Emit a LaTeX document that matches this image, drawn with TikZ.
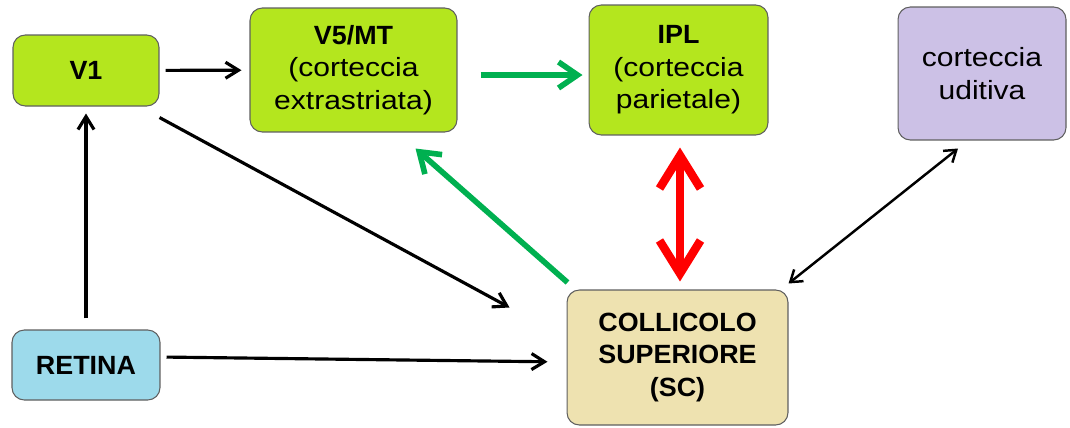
\documentclass[tikz,border=0pt]{standalone}
\usepackage{fontspec}
\setmainfont{Liberation Sans}[FakeStretch=1.14, BoldFeatures={FakeStretch=1.02}]
\usepackage{tikz}
\usetikzlibrary{arrows.meta}
\usepackage{xcolor}
\definecolor{limebox}{RGB}{180,230,30}
\definecolor{lilacbox}{RGB}{204,193,230}
\definecolor{skybox}{RGB}{157,218,235}
\definecolor{sandbox}{RGB}{238,226,176}
\definecolor{boxline}{RGB}{95,95,95}
\definecolor{pathgreen}{RGB}{0,176,80}
\definecolor{pathred}{RGB}{255,0,0}

\begin{document}
\begin{tikzpicture}[
    x=0.02cm, y=-0.02cm,
    area/.style={
        rectangle,
        draw=boxline,
        line width=0.6pt,
        rounded corners=7pt,
        align=center,
        inner sep=2pt,
        font=\fontsize{15}{18.5}\selectfont
    },
    arrow/.style={
        -{Straight Barb[length=0.26cm, width=0.32cm]},
        line width=1.8pt,
        color=black
    },
    duplex/.style={
        {Straight Barb[length=0.22cm, width=0.3cm]}-{Straight Barb[length=0.22cm, width=0.3cm]},
        line width=1.4pt,
        color=black
    },
    greenarrow/.style={
        -{Straight Barb[length=0.38cm, width=0.52cm]},
        line width=3.2pt,
        color=pathgreen
    },
    redarrow/.style={
        {Straight Barb[length=0.66cm, width=0.82cm]}-{Straight Barb[length=0.66cm, width=0.82cm]},
        line width=4.8pt,
        color=pathred
    }
]
\useasboundingbox (0,0) rectangle (1070,427);

\node[area, fill=limebox, minimum width=2.92cm, minimum height=1.42cm] (v1) at (86,70.5) {\textbf{V1}};
\node[area, fill=limebox, minimum width=4.14cm, minimum height=2.48cm] (v5) at (353.5,70) {\textbf{V5/MT}\\(corteccia\\extrastriata)};
\node[area, fill=limebox, minimum width=3.58cm, minimum height=2.6cm] (ipl) at (678.5,70) {\textbf{IPL}\\(corteccia\\parietale)};
\node[area, fill=lilacbox, minimum width=3.36cm, minimum height=2.66cm] (aud) at (982,73.5) {corteccia\\uditiva};
\node[area, fill=skybox, minimum width=2.96cm, minimum height=1.4cm] (retina) at (86,365) {\textbf{RETINA}};
\node[area, fill=sandbox, minimum width=4.42cm, minimum height=2.7cm] (sc) at (677.5,357.5) {\textbf{COLLICOLO}\\\textbf{SUPERIORE}\\\textbf{(SC)}};

% black pathways
\draw[arrow, shorten <=0.12cm, shorten >=0.16cm] (v1) -- (v5);
\draw[arrow, shorten <=0.22cm, shorten >=0.14cm] (retina.north) -- (v1.south);
\draw[arrow] ([yshift=-0.22cm]v1.south east) -- ([xshift=-1.14cm, yshift=-0.36cm]sc.north west);
\draw[arrow, shorten <=0.12cm, shorten >=0.38cm] ([yshift=0.16cm]retina.east) -- ([yshift=-0.09cm]sc.west);
\draw[duplex] ([yshift=0.12cm]sc.north east) -- ([xshift=-0.48cm, yshift=-0.16cm]aud.south);

% coloured pathways
\draw[greenarrow, shorten <=0.46cm, shorten >=0.12cm] ([yshift=-0.1cm]v5.east) -- ([yshift=-0.1cm]ipl.west);
\draw[greenarrow] ([xshift=0.02cm, yshift=0.14cm]sc.north west) -- ([xshift=-0.84cm, yshift=-0.32cm]v5.south east);
\draw[redarrow, shorten <=0.24cm, shorten >=0.16cm] ([xshift=0.03cm]ipl.south) -- ([xshift=0.05cm]sc.north);

\end{tikzpicture}
\end{document}
